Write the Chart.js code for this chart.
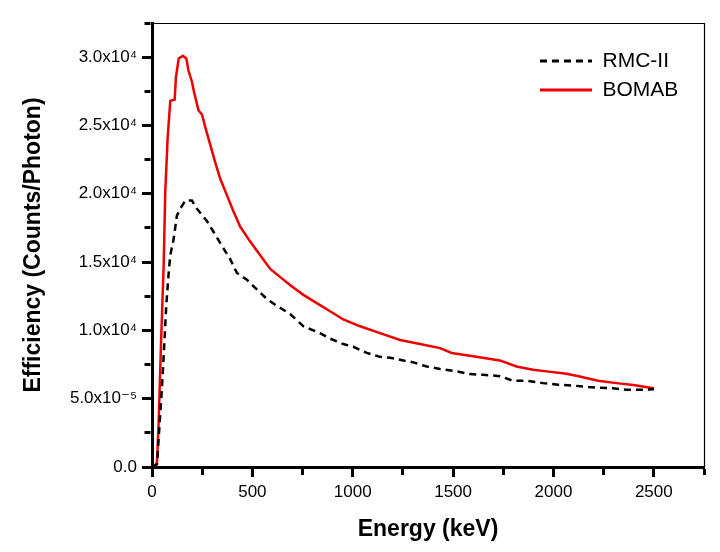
<!DOCTYPE html>
<html><head><meta charset="utf-8">
<script src="https://cdn.jsdelivr.net/npm/chart.js@4"></script>
<style>html,body{margin:0;padding:0;background:#fff}#wrap{width:720px;height:552px}</style>
</head><body><div id="wrap"><canvas id="c" width="720" height="552"></canvas></div>
<script>
// Energy in keV, efficiency in units of 1e-4 counts/photon
const seriesNames = ['RMC-II', 'BOMAB'];
const rmcEnergy = [0, 25, 38, 50, 58, 71, 83, 91, 108, 124, 141, 166, 199, 224, 274, 307, 348, 390, 423, 473, 522, 572, 622, 688, 754, 837, 887, 953, 1003, 1070, 1136, 1186, 1252, 1302, 1368, 1435, 1518, 1584, 1650, 1733, 1799, 1866, 1949, 2023, 2098, 2173, 2231, 2297, 2364, 2430, 2500];
const rmcEff = [0, 0.02, 0.32, 0.59, 0.81, 1.18, 1.42, 1.55, 1.67, 1.84, 1.89, 1.95, 1.95, 1.89, 1.80, 1.72, 1.62, 1.52, 1.42, 1.37, 1.30, 1.23, 1.18, 1.12, 1.03, 0.98, 0.94, 0.90, 0.88, 0.835, 0.806, 0.80, 0.78, 0.766, 0.736, 0.717, 0.70, 0.68, 0.675, 0.665, 0.631, 0.631, 0.614, 0.602, 0.596, 0.585, 0.58, 0.577, 0.565, 0.565, 0.57];
const bomabEnergy = [0, 17, 25, 33, 45, 58, 66, 78, 91, 113, 119, 133, 154, 171, 182, 199, 210, 232, 249, 265, 290, 315, 340, 373, 406, 439, 489, 539, 589, 639, 689, 754, 821, 887, 953, 1037, 1136, 1236, 1335, 1435, 1493, 1600, 1733, 1816, 1899, 1966, 2065, 2131, 2222, 2314, 2397, 2500];
const bomabEff = [0, 0.01, 0.04, 0.32, 0.91, 1.47, 2.01, 2.41, 2.68, 2.69, 2.85, 2.99, 3.01, 2.99, 2.90, 2.82, 2.74, 2.61, 2.58, 2.49, 2.36, 2.23, 2.11, 1.99, 1.87, 1.76, 1.65, 1.55, 1.45, 1.39, 1.33, 1.26, 1.20, 1.14, 1.08, 1.03, 0.98, 0.93, 0.90, 0.87, 0.835, 0.81, 0.78, 0.736, 0.712, 0.70, 0.683, 0.663, 0.631, 0.614, 0.60, 0.577];
const xTickValues = [0, 500, 1000, 1500, 2000, 2500];
const yTickLabels = ['0.0', '5.0x10\u207B\u2075', '1.0x10\u2074', '1.5x10\u2074', '2.0x10\u2074', '2.5x10\u2074', '3.0x10\u2074'];
const xTitle = 'Energy (keV)';
const yTitle = 'Efficiency (Counts/Photon)';

const FONT = '"Liberation Sans", Arial, "DejaVu Sans", sans-serif';
Chart.defaults.font.family = FONT;
Chart.defaults.color = '#000';

const framePlugin = {
  id: 'frame',
  beforeDatasetsDraw(chart) {
    const {ctx, chartArea: a} = chart;
    ctx.save();
    ctx.strokeStyle = '#000';
    ctx.lineWidth = 1.2;
    ctx.beginPath();
    ctx.moveTo(a.left, a.top + 0.5);
    ctx.lineTo(a.right + 0.5, a.top + 0.5);
    ctx.lineTo(a.right + 0.5, a.bottom);
    ctx.stroke();
    ctx.restore();
  }
};
const legendPlace = {
  id: 'legendPlace',
  afterLayout(chart) {
    const lg = chart.legend;
    if (!lg) return;
    const w = lg.width;
    lg.left = 532; lg.right = 532 + w;
    lg.top = 42.5; lg.bottom = 42.5 + 200;
  }
};

new Chart(document.getElementById('c'), {
  type: 'line',
  data: {
    datasets: [
      {
        label: seriesNames[0],
        data: rmcEnergy.map((x, i) => ({x, y: rmcEff[i]})),
        borderColor: '#000', backgroundColor: '#000',
        borderWidth: 2.5, borderDash: [7, 5],
        pointRadius: 0, tension: 0, fill: false
      },
      {
        label: seriesNames[1],
        data: bomabEnergy.map((x, i) => ({x, y: bomabEff[i]})),
        borderColor: '#ee0000', backgroundColor: '#ee0000',
        borderWidth: 2.5,
        pointRadius: 0, tension: 0, fill: false
      }
    ]
  },
  options: {
    responsive: false,
    animation: false,
    devicePixelRatio: 1,
    layout: {padding: {left: 0, right: 16, top: 23, bottom: 0}},
    plugins: {
      tooltip: {enabled: false},
      legend: {
        position: 'chartArea',
        align: 'start',
        labels: {
          usePointStyle: true, pointStyle: 'line', pointStyleWidth: 52,
          font: {size: 21, family: FONT}, color: '#000', padding: 8,
          generateLabels(chart) {
            const items = Chart.defaults.plugins.legend.labels.generateLabels(chart);
            items.forEach((it) => {
              const ds = chart.data.datasets[it.datasetIndex];
              it.lineDash = ds.borderDash || [];
              it.lineWidth = 3;
              it.strokeStyle = ds.borderColor;
              it.pointStyle = 'line';
            });
            return items;
          }
        }
      }
    },
    scales: {
      x: {
        type: 'linear', min: 0, max: 2750,
        afterFit(s) { s.height = 85; },
        border: {display: true, color: '#000', width: 3},
        grid: {
          drawOnChartArea: false, drawTicks: true, tickLength: 10, tickWidth: 3, tickColor: '#000',
          tickBorderDash: (c) => (c.index % 2 ? [6, 100] : []),
          tickBorderDashOffset: 0
        },
        ticks: {
          stepSize: 250, autoSkip: false, maxRotation: 0, padding: 5,
          font: {size: 17, family: FONT}, color: '#000',
          callback: (v) => (xTickValues.includes(v) ? String(v) : '')
        },
        title: {display: true, text: xTitle, color: '#000', font: {size: 23, weight: 'bold', family: FONT}, padding: {top: 0, bottom: 9}}
      },
      y: {
        type: 'linear', min: 0, max: 3.25,
        afterFit(s) { s.width = 152; },
        border: {display: true, color: '#000', width: 3},
        grid: {
          drawOnChartArea: false, drawTicks: true, tickLength: 10, tickWidth: 3, tickColor: '#000',
          tickBorderDash: (c) => (c.index % 2 ? [6, 2.5] : []),
          tickBorderDashOffset: (c) => (c.index % 2 ? 6 : 0)
        },
        ticks: {
          stepSize: 0.25, autoSkip: false, padding: 5,
          font: {size: 17, family: FONT}, color: '#000',
          callback: (v, i) => (i % 2 === 0 && yTickLabels[i / 2] !== undefined ? yTickLabels[i / 2] : '')
        },
        title: {display: true, text: yTitle, color: '#000', font: {size: 23, weight: 'bold', family: FONT}, padding: {top: 20, bottom: 0}}
      }
    }
  },
  plugins: [framePlugin, legendPlace]
});
</script>
</body></html>
